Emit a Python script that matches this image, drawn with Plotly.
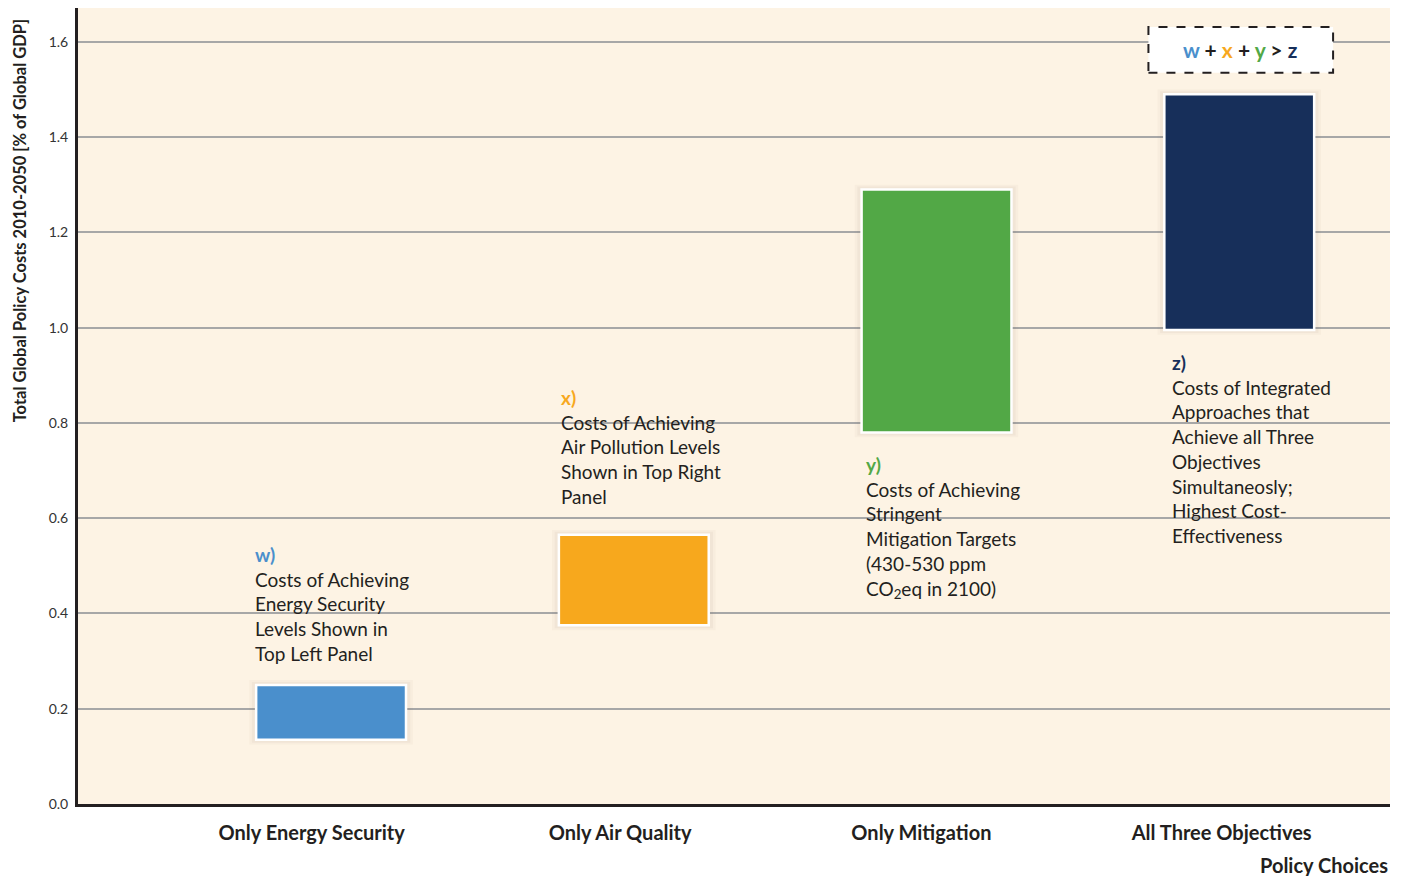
import plotly.graph_objects as go

categories = ["Only Energy Security", "Only Air Quality", "Only Mitigation", "All Three Objectives"]
cost_low = [0.135, 0.375, 0.78, 0.995]
cost_high = [0.25, 0.565, 1.29, 1.49]
bar_colors = ["#4A8FCC", "#F7A81D", "#52A846", "#172F5A"]
labels = ["w)", "x)", "y)", "z)"]
descriptions = [
    "Costs of Achieving<br>Energy Security<br>Levels Shown in<br>Top Left Panel",
    "Costs of Achieving<br>Air Pollution Levels<br>Shown in Top Right<br>Panel",
    "Costs of Achieving<br>Stringent<br>Mitigation Targets<br>(430-530 ppm<br>CO<sub>2</sub>eq in 2100)",
    "Costs of Integrated<br>Approaches that<br>Achieve all Three<br>Objectives<br>Simultaneosly;<br>Highest Cost-<br>Effectiveness",
]
label_tops = [0.552, 0.881, 0.741, 0.955]
y_ticks = [0.0, 0.2, 0.4, 0.6, 0.8, 1.0, 1.2, 1.4, 1.6]

FONT = "Lato"
TEXT = "#231F20"
BG = "#FDF3E4"
positions = list(range(len(categories)))
bar_w = 0.495
label_shift = [-0.064, -0.045, -0.05, -0.058]
text_shift = [-0.01, 0.002, 0.007, 0.02]

fig = go.Figure()
# soft shadow
for k, a in [(0.045, 0.04), (0.028, 0.05)]:
    fig.add_trace(go.Bar(
        x=positions, y=[h - l + k * 0.45 for l, h in zip(cost_low, cost_high)],
        base=[l - k * 0.225 for l in cost_low], width=bar_w + k,
        marker=dict(color=f"rgba(120,100,70,{a})", line=dict(width=0)),
        hoverinfo="skip", showlegend=False))
fig.add_trace(go.Bar(
    x=positions, y=[h - l for l, h in zip(cost_low, cost_high)],
    base=cost_low, width=bar_w,
    marker=dict(color=bar_colors, line=dict(color="white", width=2.5)),
    showlegend=False))

fig.update_layout(barmode="overlay")

# text annotations
for i in positions:
    fig.add_annotation(
        x=i - bar_w / 2 + text_shift[i], y=label_tops[i], xref="x", yref="y",
        xanchor="left", yanchor="top", align="left", showarrow=False,
        text=f"<b><span style='color:{bar_colors[i]}'>{labels[i]}</span></b><br>{descriptions[i]}",
        font=dict(family=FONT, size=19, color=TEXT))

# dashed box w + x + y > z
fig.add_shape(type="rect", xref="x", yref="y",
              x0=3 - 0.3, x1=3 + 0.31, y0=1.535, y1=1.631,
              line=dict(color="#231F20", width=2, dash="dash"), fillcolor="white", layer="above")
eq = (f"<b><span style='color:{bar_colors[0]}'>w</span> + <span style='color:{bar_colors[1]}'>x</span> + "
      f"<span style='color:{bar_colors[2]}'>y</span> &gt; <span style='color:{bar_colors[3]}'>z</span></b>")
fig.add_annotation(x=3.005, y=1.583, xref="x", yref="y", showarrow=False, text=eq,
                   font=dict(family=FONT, size=21, color=TEXT))

# x axis title
fig.add_annotation(x=1, y=0, xref="paper", yref="paper", xanchor="right", yanchor="middle",
                   yshift=-61, showarrow=False, text="<b>Policy Choices</b>",
                   font=dict(family=FONT, size=20, color=TEXT))

# y axis title (placed high, as in the reference)
fig.add_annotation(x=0, y=0.732, xref="paper", yref="paper", xanchor="center", yanchor="middle",
                   xshift=-58, showarrow=False, textangle=-90,
                   text="<b>Total Global Policy Costs 2010-2050 [% of Global GDP]</b>",
                   font=dict(family=FONT, size=16.5, color=TEXT))

fig.update_xaxes(
    range=[-0.836, 3.498], tickvals=[p + s for p, s in zip(positions, label_shift)],
    ticktext=[f"<b>{c}</b>" for c in categories],
    tickfont=dict(family=FONT, size=20, color=TEXT), showgrid=False, zeroline=False,
    showline=True, linecolor="#231F20", linewidth=3, ticks="", ticklabelstandoff=9)
fig.update_yaxes(
    range=[0, 1.671], tickvals=y_ticks, tickformat=".1f",
    tickfont=dict(family=FONT, size=14, color="#333333"),
    showgrid=True, gridcolor="#A7A7A7", gridwidth=1.5, zeroline=False,
    showline=True, linecolor="#231F20", linewidth=3, ticks="", ticklabelstandoff=4)

fig.update_layout(
    width=1391, height=868,
    margin=dict(l=70, r=9, t=0, b=72),
    plot_bgcolor=BG, paper_bgcolor="white",
    font=dict(family=FONT, color=TEXT),
)

fig.write_html("out.html")
